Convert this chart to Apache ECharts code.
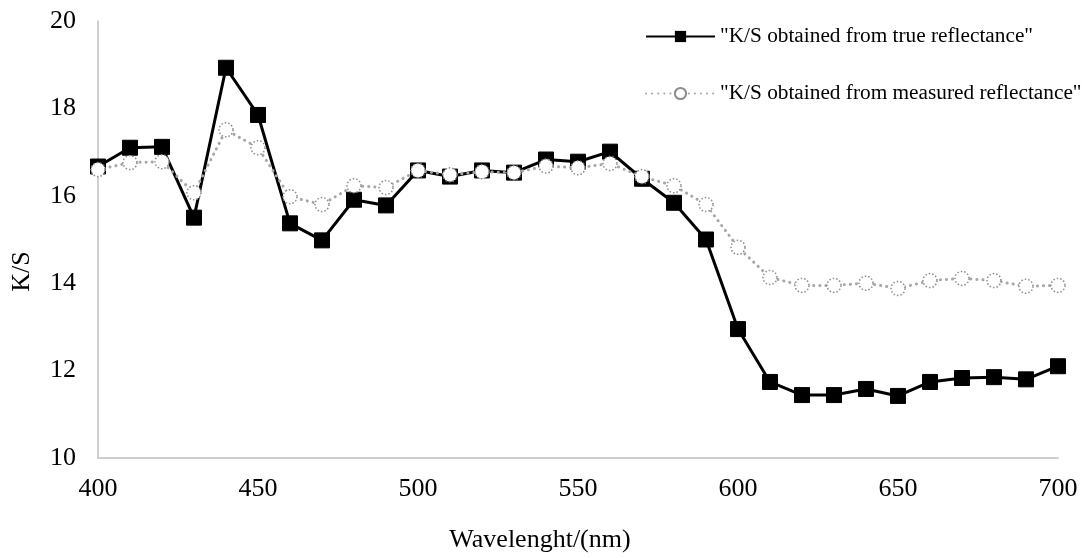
<!DOCTYPE html>
<html>
<head>
<meta charset="utf-8">
<script src="https://cdn.jsdelivr.net/npm/echarts@6/dist/echarts.min.js"></script>
<style>
  html, body { margin: 0; padding: 0; background: #fff; }
  #chart { width: 1086px; height: 558px; }
</style>
</head>
<body>
<div id="chart"></div>
<script>
// Wavelength samples (nm)
const wavelengths = [400, 410, 420, 430, 440, 450, 460, 470, 480, 490, 500, 510, 520, 530, 540, 550,
  560, 570, 580, 590, 600, 610, 620, 630, 640, 650, 660, 670, 680, 690, 700];

// K/S computed from the true reflectance
const ksTrue = [16.67, 17.10, 17.12, 15.50, 18.93, 17.85, 15.37, 14.98, 15.91, 15.78, 16.58, 16.44, 16.58, 16.53, 16.83, 16.78,
  17.01, 16.39, 15.84, 15.00, 12.95, 11.74, 11.44, 11.44, 11.58, 11.42, 11.74, 11.83, 11.85, 11.80, 12.10];

// K/S computed from the measured reflectance
const ksMeasured = [16.60, 16.76, 16.78, 16.07, 17.51, 17.10, 15.98, 15.80, 16.23, 16.19, 16.58, 16.48, 16.55, 16.53, 16.68, 16.64,
  16.74, 16.44, 16.23, 15.80, 14.82, 14.13, 13.95, 13.95, 14.00, 13.88, 14.06, 14.11, 14.06, 13.93, 13.95];

const seriesNames = ['"K/S obtained from true reflectance"', '"K/S obtained from measured reflectance"'];

const FONT = '"Liberation Serif", "Times New Roman", serif';

const chart = echarts.init(document.getElementById('chart'), null, { renderer: 'canvas' });

chart.setOption({
  animation: false,
  backgroundColor: '#ffffff',
  grid: { left: 98, right: 28, top: 21, bottom: 99, containLabel: false },
  legend: {
    orient: 'vertical',
    left: 640,
    top: 21,
    itemWidth: 69,
    itemHeight: 14,
    itemGap: 36,
    textStyle: { fontFamily: FONT, fontSize: 21.3, color: '#000' },
    data: seriesNames
  },
  xAxis: {
    type: 'value',
    min: 400,
    max: 700,
    interval: 50,
    name: 'Wavelenght/(nm)',
    nameLocation: 'middle',
    nameGap: 69,
    nameTextStyle: { fontFamily: FONT, fontSize: 26, color: '#000', padding: [0, 76, 0, 0] },
    axisLine: { show: true, lineStyle: { color: '#bfbfbf', width: 1.5 } },
    axisTick: { show: false },
    splitLine: { show: false },
    axisLabel: { fontFamily: FONT, fontSize: 26, color: '#000', margin: 18 }
  },
  yAxis: {
    type: 'value',
    min: 10,
    max: 20,
    interval: 2,
    name: 'K/S',
    nameLocation: 'middle',
    nameGap: 63,
    nameRotate: 90,
    nameTextStyle: { fontFamily: FONT, fontSize: 26, color: '#000', padding: [0, 64, 0, 0] },
    axisLine: { show: true, lineStyle: { color: '#bfbfbf', width: 1.5 } },
    axisTick: { show: false },
    splitLine: { show: false },
    axisLabel: { fontFamily: FONT, fontSize: 26, color: '#000', margin: 22 }
  },
  series: [
    {
      name: seriesNames[0],
      type: 'line',
      data: wavelengths.map((w, i) => [w, ksTrue[i]]),
      symbol: 'rect',
      symbolSize: 15,
      lineStyle: { color: '#000', width: 3 },
      itemStyle: { color: '#000', borderColor: '#000' },
      z: 2
    },
    {
      name: seriesNames[1],
      type: 'line',
      data: wavelengths.map((w, i) => [w, ksMeasured[i]]),
      symbol: 'circle',
      symbolSize: 14,
      lineStyle: { color: '#a6a6a6', width: 3, type: [0.1, 6], cap: 'round' },
      itemStyle: { color: '#ffffff', borderColor: '#8c8c8c', borderWidth: 1.5, borderType: [1.5, 2] },
      z: 3
    }
  ]
});
</script>
</body>
</html>
